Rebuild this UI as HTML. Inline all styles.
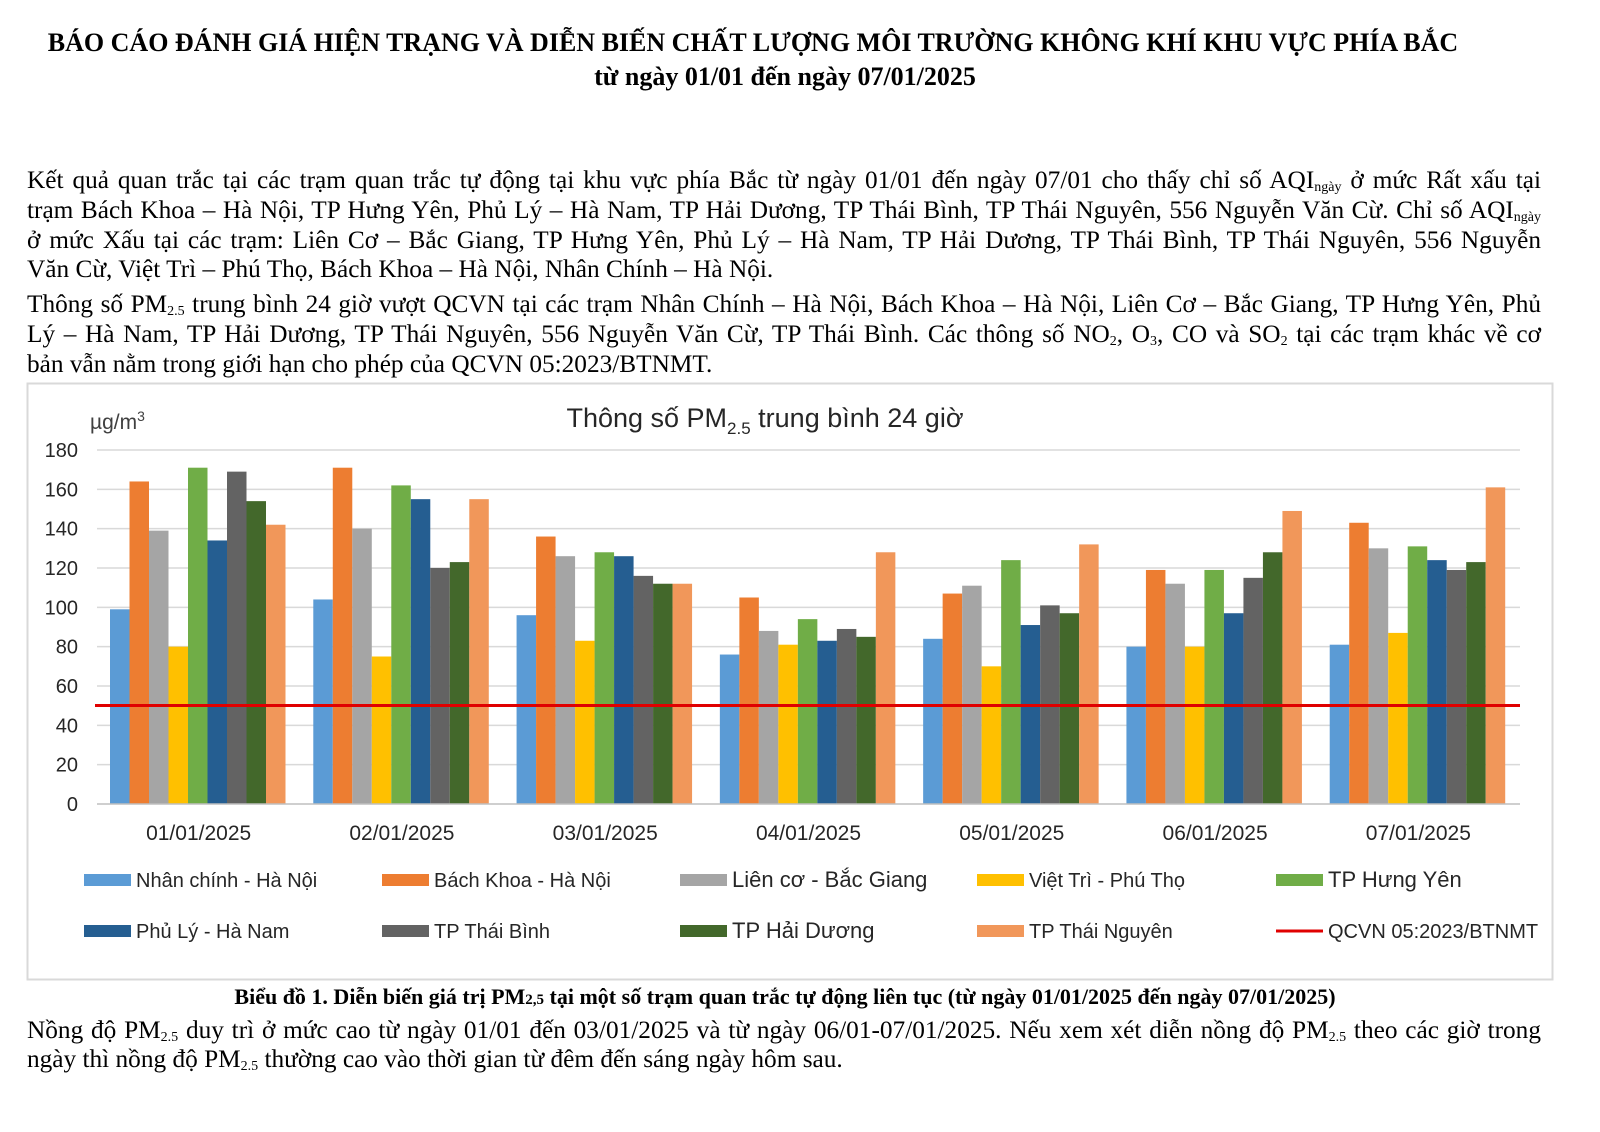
<!DOCTYPE html>
<html><head><meta charset="utf-8"><style>
body{margin:0;width:1600px;height:1132px;background:#fff;position:relative;overflow:hidden;font-family:"Liberation Serif",serif;color:#000}
.h{position:absolute;left:0;width:1506px;text-align:center;font-weight:bold;font-size:26px;white-space:nowrap}
.l{position:absolute;left:27px;width:1514px;font-size:25.3px;text-align:justify;text-align-last:justify;white-space:nowrap;line-height:28px}
.l.n{text-align-last:left}
sub{font-size:14px;vertical-align:-3px;line-height:0}
.cap{position:absolute;left:0;width:1570px;text-align:center;font-weight:bold;font-size:22px;top:984px;white-space:nowrap}
</style></head><body>
<div class="h" style="top:28px">BÁO CÁO ĐÁNH GIÁ HIỆN TRẠNG VÀ DIỄN BIẾN CHẤT LƯỢNG MÔI TRƯỜNG KHÔNG KHÍ KHU VỰC PHÍA BẮC</div>
<div class="h" style="top:62px;left:32px">từ ngày 01/01 đến ngày 07/01/2025</div>
<div class="l" style="top:166px">Kết quả quan trắc tại các trạm quan trắc tự động tại khu vực phía Bắc từ ngày 01/01 đến ngày 07/01 cho thấy chỉ số AQI<sub>ngày</sub> ở mức Rất xấu tại</div>
<div class="l" style="top:196px">trạm Bách Khoa – Hà Nội, TP Hưng Yên, Phủ Lý – Hà Nam, TP Hải Dương, TP Thái Bình, TP Thái Nguyên, 556 Nguyễn Văn Cừ. Chỉ số AQI<sub>ngày</sub></div>
<div class="l" style="top:226px">ở mức Xấu tại các trạm: Liên Cơ – Bắc Giang, TP Hưng Yên, Phủ Lý – Hà Nam, TP Hải Dương, TP Thái Bình, TP Thái Nguyên, 556 Nguyễn</div>
<div class="l n" style="top:255px">Văn Cừ, Việt Trì – Phú Thọ, Bách Khoa – Hà Nội, Nhân Chính – Hà Nội.</div>
<div class="l" style="top:290px">Thông số PM<sub>2.5</sub> trung bình 24 giờ vượt QCVN tại các trạm Nhân Chính – Hà Nội, Bách Khoa – Hà Nội, Liên Cơ – Bắc Giang, TP Hưng Yên, Phủ</div>
<div class="l" style="top:320px">Lý – Hà Nam, TP Hải Dương, TP Thái Nguyên, 556 Nguyễn Văn Cừ, TP Thái Bình. Các thông số NO<sub>2</sub>, O<sub>3</sub>, CO và SO<sub>2</sub> tại các trạm khác về cơ</div>
<div class="l n" style="top:350px">bản vẫn nằm trong giới hạn cho phép của QCVN 05:2023/BTNMT.</div>
<svg style="position:absolute;left:0;top:0" width="1600" height="1132" font-family="Liberation Sans, sans-serif">
<rect x="27.5" y="383.5" width="1525" height="596" fill="#fff" stroke="#d9d9d9" stroke-width="2"/>
<text x="90" y="429" font-size="21" fill="#404040">µg/m<tspan font-size="14" dy="-8">3</tspan></text>
<text x="765" y="427" font-size="27" text-anchor="middle" fill="#262626">Thông số PM<tspan font-size="17" dy="7">2.5</tspan><tspan dy="-7"> trung bình 24 giờ</tspan></text>
<g id="grid" stroke="#d9d9d9" stroke-width="1.5"></g>
<g id="yl" font-size="20" fill="#262626" text-anchor="end"></g>
<g id="bars"></g>
<line x1="97" y1="804" x2="1520" y2="804" stroke="#bfbfbf" stroke-width="1.5"/>
<line x1="95" y1="705.5" x2="1520" y2="705.5" stroke="#e00000" stroke-width="3"/>
<g id="xl" font-size="21" fill="#262626" text-anchor="middle"></g>
<g id="lg" font-size="20" fill="#262626"></g>
</svg>
<div class="cap">Biểu đồ 1. Diễn biến giá trị PM<span style="font-size:15px">2,5</span> tại một số trạm quan trắc tự động liên tục (từ ngày 01/01/2025 đến ngày 07/01/2025)</div>
<div class="l" style="top:1016px">Nồng độ PM<sub>2.5</sub> duy trì ở mức cao từ ngày 01/01 đến 03/01/2025 và từ ngày 06/01-07/01/2025. Nếu xem xét diễn nồng độ PM<sub>2.5</sub> theo các giờ trong</div>
<div class="l n" style="top:1045px">ngày thì nồng độ PM<sub>2.5</sub> thường cao vào thời gian từ đêm đến sáng ngày hôm sau.</div>
<script>
var ns="http://www.w3.org/2000/svg";
function el(p,t,a,tx){var e=document.createElementNS(ns,t);for(var k in a)e.setAttribute(k,a[k]);if(tx)e.textContent=tx;document.getElementById(p).appendChild(e);}
var y0=804,s=354/180;
for(var v=20;v<=180;v+=20)el("grid","line",{x1:97,x2:1520,y1:y0-v*s,y2:y0-v*s});
for(var v=0;v<=180;v+=20)el("yl","text",{x:78,y:y0-v*s+7},""+v);
var C=["#5B9BD5","#ED7D31","#A5A5A5","#FFC000","#70AD47","#255E91","#636363","#43682B","#F1975A"];
var D=[[99,164,139,80,171,134,169,154,142],[104,171,140,75,162,155,120,123,155],[96,136,126,83,128,126,116,112,112],[76,105,88,81,94,83,89,85,128],[84,107,111,70,124,91,101,97,132],[80,119,112,80,119,97,115,128,149],[81,143,130,87,131,124,119,123,161]];
var gw=1423/7,bw=19.5;
for(var g=0;g<7;g++){for(var i=0;i<9;i++){var h=D[g][i]*s;el("bars","rect",{x:97+g*gw+13+i*bw,y:y0-h,width:bw,height:h,fill:C[i]});}
el("xl","text",{x:97+g*gw+gw/2,y:840},"0"+(g+1)+"/01/2025");}
var L=[["Nhân chính - Hà Nội",84,880,20],["Bách Khoa - Hà Nội",382,880,20],["Liên cơ - Bắc Giang",680,880,22],["Việt Trì - Phú Thọ",977,880,20],["TP Hưng Yên",1276,880,22],["Phủ Lý - Hà Nam",84,931,20],["TP Thái Bình",382,931,20],["TP Hải Dương",680,931,22],["TP Thái Nguyên",977,931,20]];
L.forEach(function(l,i){el("lg","rect",{x:l[1],y:l[2]-6,width:47,height:12,fill:C[i]});el("lg","text",{x:l[1]+52,y:l[2]+7,"font-size":l[3]},l[0]);});
el("lg","line",{x1:1276,x2:1323,y1:931,y2:931,stroke:"#e00000","stroke-width":3});
el("lg","text",{x:1328,y:938},"QCVN 05:2023/BTNMT");
</script>
</body></html>
